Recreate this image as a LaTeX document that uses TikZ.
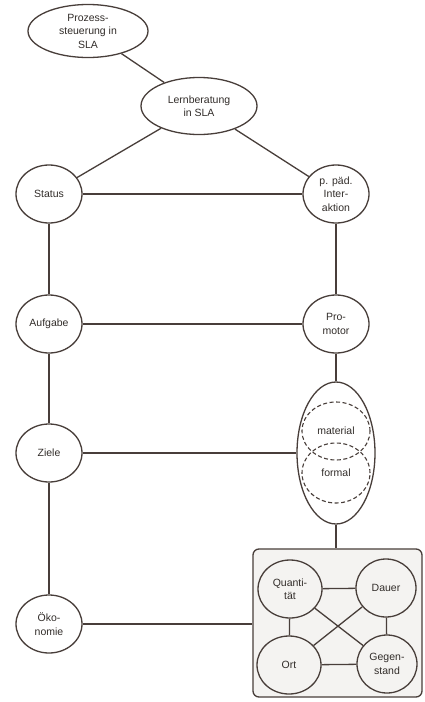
\documentclass[tikz,border=0pt]{standalone}
\usepackage{fontspec}
\setmainfont{Liberation Sans}
\usetikzlibrary{shapes.geometric}
\definecolor{ink}{RGB}{72,62,58}
\definecolor{txt}{RGB}{50,45,42}
\definecolor{boxfill}{RGB}{244,243,241}
\begin{document}
\begin{tikzpicture}[x=1pt,y=-1pt,
  every node/.style={font=\fontsize{10.5}{13.5}\selectfont, text=txt, align=center, inner sep=0pt},
  ell/.style={draw=ink, line width=1.3pt, ellipse},
  circ/.style={ell, minimum width=66pt, minimum height=58pt},
  dash ell/.style={draw=ink, line width=1.1pt, dash pattern=on 4pt off 2.5pt, ellipse, minimum width=68pt, minimum height=58pt},
  conn/.style={draw=ink, line width=1.3pt}]
\useasboundingbox (0,0) rectangle (424,702);
\fill[white] (0,0) rectangle (424,702);
% top ellipses
\node[ell, minimum width=120pt, minimum height=53pt] (ps) at (88,31) {Prozess-\\steuerung in\\SLA};
\node[ell, minimum width=116pt, minimum height=57pt] (lb) at (199,106) {Lernberatung\\in SLA};
% left column
\node[circ] (status) at (49,194) {Status};
\node[circ] (aufgabe) at (49,324) {Aufgabe};
\node[circ] (ziele) at (49,453) {Ziele};
\node[circ] (oek) at (49,624) {Öko-\\nomie};
% right column
\node[circ] (ppi) at (336,194) {p. päd.\\Inter-\\aktion};
\node[circ] (pro) at (336,324) {Pro-\\motor};
\node[ell, minimum width=78pt, minimum height=142pt] (mf) at (336,453) {};
\node[dash ell] (mat) at (336,431) {material};
\node[dash ell, minimum height=60pt] (form) at (336,473) {formal};
% box
\node[draw=ink, line width=1.3pt, rounded corners=6pt, fill=boxfill, minimum width=169pt, minimum height=148pt] (box) at (337.5,623) {};
\node[circ, minimum width=64pt] (quant) at (290,589) {Quanti-\\tät};
\node[circ, minimum width=60pt] (dauer) at (386,588) {Dauer};
\node[circ, minimum width=64pt] (ort) at (289,665) {Ort};
\node[circ, minimum width=60pt] (geg) at (387,664) {Gegen-\\stand};
% connectors
\draw[conn] (ps) -- (lb);
\draw[conn] (lb) -- (status);
\draw[conn] (lb) -- (ppi);
\draw[conn] (status) -- (ppi);
\draw[conn] (status) -- (aufgabe);
\draw[conn] (aufgabe) -- (ziele);
\draw[conn] (ziele) -- (oek);
\draw[conn] (ppi) -- (pro);
\draw[conn] (aufgabe) -- (pro);
\draw[conn] (pro) -- (mf);
\draw[conn] (ziele) -- (mf);
\draw[conn] (mf) -- (mf |- box.north);
\draw[conn] (oek) -- (oek -| box.west);
\draw[conn] (quant) -- (dauer);
\draw[conn] (ort) -- (geg);
\draw[conn] (quant) -- (ort);
\draw[conn] (dauer) -- (geg);
\draw[conn] (quant) -- (geg);
\draw[conn] (dauer) -- (ort);
\end{tikzpicture}
\end{document}
